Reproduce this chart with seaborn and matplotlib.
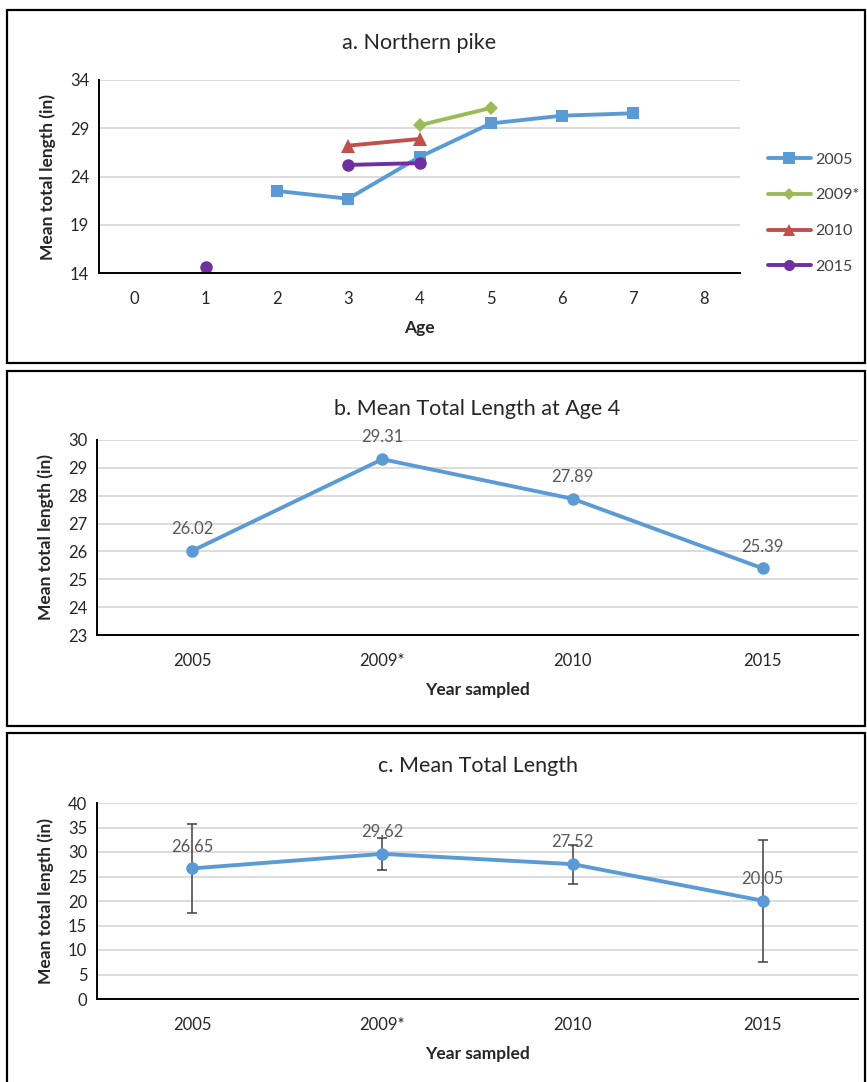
import matplotlib
matplotlib.use("Agg")
import matplotlib.pyplot as plt
from matplotlib.patches import Rectangle
from matplotlib.lines import Line2D
import seaborn as sns
import pandas as pd

sns.set_theme(style="white")
plt.rcParams['font.family'] = ['Lato', 'DejaVu Sans']

# ---- data ----
ages_2005 = [2, 3, 4, 5, 6, 7]
len_2005 = [22.5, 21.7, 26.02, 29.5, 30.3, 30.55]
ages_2009 = [4, 5]
len_2009 = [29.31, 31.1]
ages_2010 = [3, 4]
len_2010 = [27.2, 27.89]
ages_2015_a = [1]
len_2015_a = [14.65]
ages_2015_b = [3, 4]
len_2015_b = [25.2, 25.39]

years = ["2005", "2009*", "2010", "2015"]
age4_len = [26.02, 29.31, 27.89, 25.39]
mean_len = [26.65, 29.62, 27.52, 20.05]
mean_err = [9.15, 3.2, 4.0, 12.4]

BLUE = "#5B9BD5"
GREEN = "#9BBB59"
RED = "#C0504D"
PURPLE = "#7030A0"
GRID = "#D9D9D9"
TXT = "#404040"

W, H = 867, 1082
fig = plt.figure(figsize=(W / 100, H / 100), dpi=100)


def ax_px(left, top, right, bottom):
    return fig.add_axes([left / W, 1 - bottom / H, (right - left) / W, (bottom - top) / H])


def style_ax(ax):
    for s in ["top", "right"]:
        ax.spines[s].set_visible(False)
    for s in ["left", "bottom"]:
        ax.spines[s].set_color("black")
        ax.spines[s].set_linewidth(1.4)
    ax.grid(axis="y", color=GRID, linewidth=1.3)
    ax.set_axisbelow(True)
    ax.tick_params(length=0, labelsize=12, labelcolor="#262626")
    ax.tick_params(axis="x", pad=13)
    ax.tick_params(axis="y", pad=7)


# panel borders
for (l, t, r, b) in [(7, 10, 865, 363), (7, 371, 865, 726), (7, 733, 865, 1095)]:
    fig.add_artist(Rectangle((l / W, 1 - b / H), (r - l) / W, (b - t) / H,
                             transform=fig.transFigure, fill=False,
                             edgecolor="black", linewidth=1.6))

XL = dict(fontsize=12.5, fontweight="bold", labelpad=9)
YL = dict(fontsize=12.5, fontweight="bold", labelpad=10)

# ---- panel a ----
axa = ax_px(99, 80, 740, 273)
style_ax(axa)
lw = 2.8
sns.lineplot(x=ages_2005, y=len_2005, ax=axa, color=BLUE, marker="s", markersize=9,
             markeredgewidth=0, linewidth=lw)
sns.lineplot(x=ages_2009, y=len_2009, ax=axa, color=GREEN, marker="D", markersize=7,
             markeredgewidth=0, linewidth=lw)
sns.lineplot(x=ages_2010, y=len_2010, ax=axa, color=RED, marker="^", markersize=10,
             markeredgewidth=0, linewidth=lw)
sns.lineplot(x=ages_2015_a, y=len_2015_a, ax=axa, color=PURPLE, marker="o", markersize=9,
             markeredgewidth=0, linewidth=lw)
sns.lineplot(x=ages_2015_b, y=len_2015_b, ax=axa, color=PURPLE, marker="o", markersize=9,
             markeredgewidth=0, linewidth=lw)
axa.set_xlim(-0.5, 8.5)
axa.set_ylim(14, 34)
axa.set_yticks([14, 19, 24, 29, 34])
axa.set_xticks(range(0, 9))
axa.set_xlabel("Age", **XL)
axa.set_ylabel("Mean total length (in)", **YL)
axa.set_title("a. Northern pike", fontsize=15.5, pad=22)
handles = [
    Line2D([], [], color=BLUE, marker="s", markersize=8, markeredgewidth=0, linewidth=lw),
    Line2D([], [], color=GREEN, marker="D", markersize=6, markeredgewidth=0, linewidth=lw),
    Line2D([], [], color=RED, marker="^", markersize=8, markeredgewidth=0, linewidth=lw),
    Line2D([], [], color=PURPLE, marker="o", markersize=8, markeredgewidth=0, linewidth=lw),
]
axa.legend(handles, ["2005", "2009*", "2010", "2015"], loc="center left",
           bbox_to_anchor=(1.043, 0.31), frameon=False, fontsize=11.5, handlelength=2.7,
           labelspacing=1.35, handletextpad=0.3, labelcolor="#404040",
           borderaxespad=0, borderpad=0)

# ---- panel b ----
axb = ax_px(97, 440, 858, 635)
style_ax(axb)
xb = list(range(len(years)))
sns.lineplot(x=xb, y=age4_len, ax=axb, color=BLUE, marker="o", markersize=9,
             markeredgewidth=0, linewidth=lw)
for xi, v in zip(xb, age4_len):
    axb.annotate(f"{v:.2f}", (xi, v), xytext=(0, 10), textcoords="offset points",
                 ha="center", va="bottom", fontsize=12, color="#595959")
axb.set_xlim(-0.5, 3.5)
axb.set_ylim(23, 30)
axb.set_yticks(range(23, 31))
axb.set_xticks(xb)
axb.set_xticklabels(years)
axb.set_xlabel("Year sampled", **XL)
axb.set_ylabel("Mean total length (in)", **YL)
axb.set_title("b. Mean Total Length at Age 4", fontsize=15.5, pad=18)

# ---- panel c ----
axc = ax_px(97, 803, 858, 999)
style_ax(axc)
axc.errorbar(xb, mean_len, yerr=mean_err, fmt="none", ecolor=TXT, elinewidth=1.1,
             capsize=3.5, capthick=1.1, zorder=2)
sns.lineplot(x=xb, y=mean_len, ax=axc, color=BLUE, marker="o", markersize=9,
             markeredgewidth=0, linewidth=lw, zorder=3)
for xi, v in zip(xb, mean_len):
    axc.annotate(f"{v:.2f}", (xi, v), xytext=(0, 10), textcoords="offset points",
                 ha="center", va="bottom", fontsize=12, color="#595959", zorder=4)
axc.set_xlim(-0.5, 3.5)
axc.set_ylim(0, 40)
axc.set_yticks(range(0, 41, 5))
axc.set_xticks(xb)
axc.set_xticklabels(years)
axc.set_xlabel("Year sampled", **XL)
axc.set_ylabel("Mean total length (in)", **YL)
axc.set_title("c. Mean Total Length", fontsize=15.5, pad=22)

fig.savefig("out.png", dpi=100)
